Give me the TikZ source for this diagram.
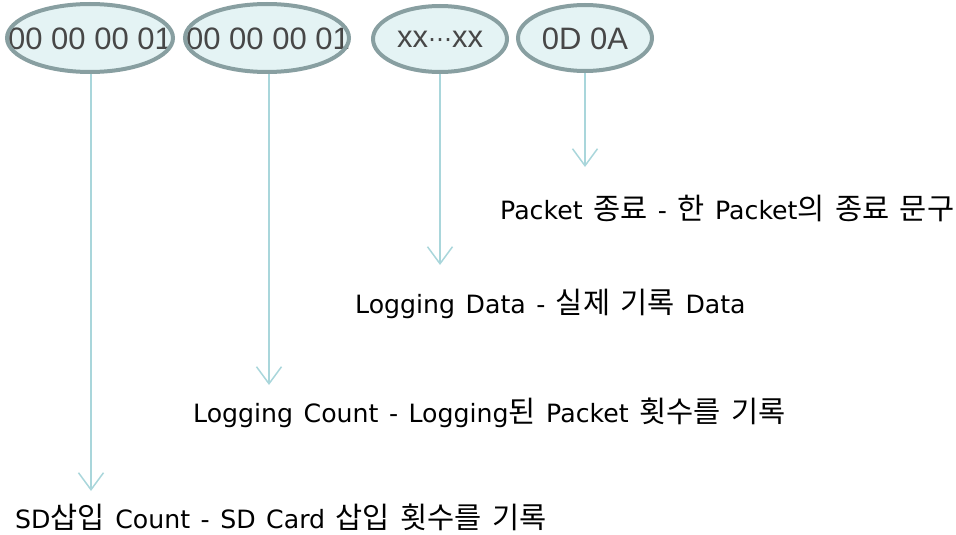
\documentclass[tikz,border=0pt]{standalone}
\usepackage{fontspec}
\setmainfont{Liberation Sans}
\newfontfamily\kfont{Noto Sans CJK KR}
\newfontfamily\dvfont{DejaVu Sans}
\newcommand\hg[1]{{\kfont\fontsize{29.5}{29.5}\selectfont #1}}
\newcommand\lblfont{\dvfont\fontsize{25.2}{25.2}\selectfont\spaceskip=10.5pt\relax}
\usetikzlibrary{arrows.meta,shapes.geometric}
\definecolor{rimc}{HTML}{889FA1}
\definecolor{fillc}{HTML}{E4F3F4}
\definecolor{hexc}{HTML}{474747}
\definecolor{arrc}{HTML}{A9D6DB}
\tikzset{
  ell/.style={inner sep=0pt, text=hexc, font=\fontsize{31}{31}\selectfont},
  rim/.style={draw=rimc, line width=4pt},
  conn/.style={draw=arrc, line width=1.5pt, -{Straight Barb[length=17pt,width=25pt,line width=1.5pt]}},
  lbl/.style={anchor=west, inner sep=0pt, font=\lblfont, text=black}
}
\begin{document}
\begin{tikzpicture}[x=1pt,y=-1pt]
\useasboundingbox (0,0) rectangle (956,535);
% ellipses
\fill[fillc] (90,38) ellipse (83 and 34);
\node[ell] (e1) at (90,39) {00 00 00 01};
\draw[rim] (90,38) ellipse (83 and 34);
\fill[fillc] (267,38) ellipse (82 and 34);
\node[ell] (e2) at (268,39) {00 00 00 01};
\draw[rim] (267,38) ellipse (82 and 34);
\fill[fillc] (440,39) ellipse (67 and 33);
\node[ell] (e3) at (440,39) {xx{\dvfont\fontsize{24}{24}\selectfont ⋯}xx};
\draw[rim] (440,39) ellipse (67 and 33);
\fill[fillc] (585,38) ellipse (67 and 33);
\node[ell] (e4) at (585,39) {0D 0A};
\draw[rim] (585,38) ellipse (67 and 33);
% arrow ends
\coordinate (b1) at (91,74);
\coordinate (b2) at (269,74);
\coordinate (b3) at (440,74);
\coordinate (b4) at (585,73);
\coordinate (t1) at (91,491);
\coordinate (t2) at (269,385);
\coordinate (t3) at (440,265);
\coordinate (t4) at (585,167);
\draw[conn] (b1) -- (t1);
\draw[conn] (b2) -- (t2);
\draw[conn] (b3) -- (t3);
\draw[conn] (b4) -- (t4);
% labels
\node[lbl] (l4) at (500,208) {Packet \hg{종료} - \hg{한} Packet\hg{의} \hg{종료} \hg{문구}};
\node[lbl] (l3) at (355,304) {Logging Data - \hg{실제} \hg{기록} Data};
\node[lbl] (l2) at (193,413) {Logging Count - Logging\hg{된} Packet \hg{횟수를} \hg{기록}};
\node[lbl] (l1) at (15,517) {SD\hg{삽입} Count - SD Card \hg{삽입} \hg{횟수를} \hg{기록}};
\end{tikzpicture}
\end{document}
